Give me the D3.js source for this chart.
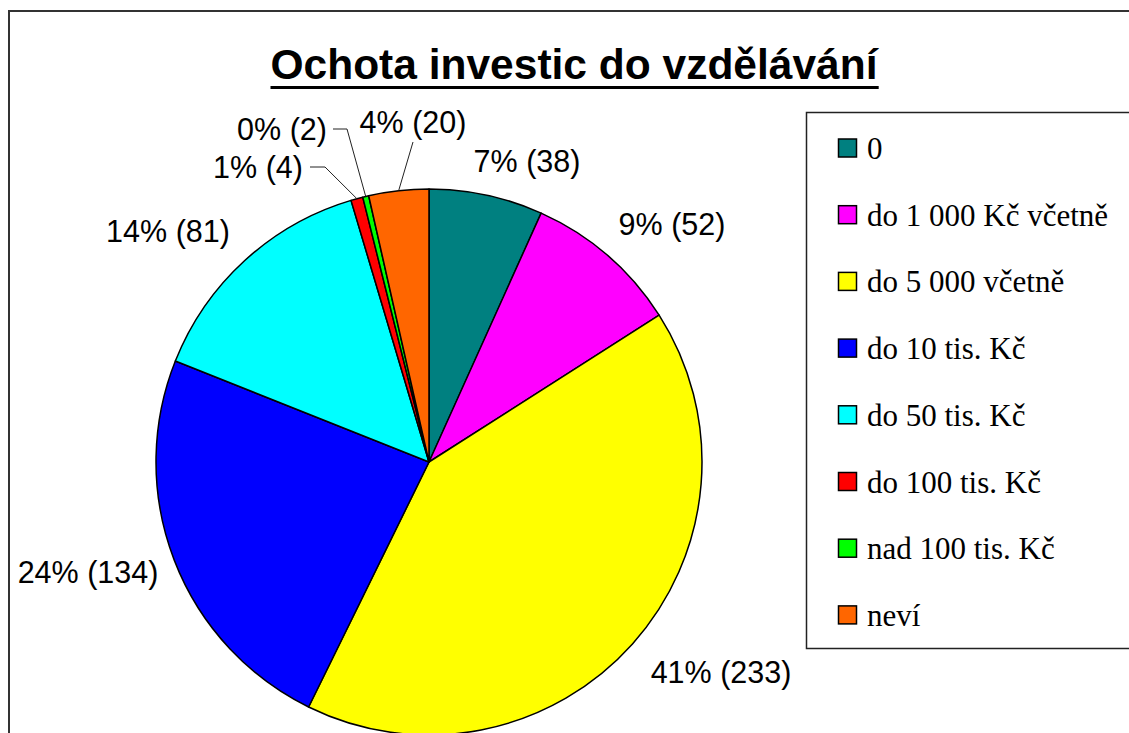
<!DOCTYPE html>
<html>
<head>
<meta charset="utf-8">
<script src="https://cdn.jsdelivr.net/npm/d3@7"></script>
<style>
  html, body { margin: 0; padding: 0; background: #fff; overflow: hidden; }
  svg { display: block; }
</style>
</head>
<body>
<svg id="chart" width="1129" height="733"></svg>
<script>
// ---- data ----
const categories = ["0", "do 1 000 Kč včetně", "do 5 000 včetně", "do 10 tis. Kč",
                    "do 50 tis. Kč", "do 100 tis. Kč", "nad 100 tis. Kč", "neví"];
const counts = [38, 52, 233, 134, 81, 4, 2, 20];
const percentLabels = ["7%", "9%", "41%", "24%", "14%", "1%", "0%", "4%"];
const colors = ["#008080", "#FF00FF", "#FFFF00", "#0000FF", "#00FFFF", "#FF0000", "#00FF00", "#FF6600"];
const title = "Ochota investic do vzdělávání";

// ---- layout (label anchors: text centre x, baseline y) ----
const labelPos = [[527, 172], [672, 235], [721, 683], [88, 583], [168, 242], [258, 178], [282, 140], [413, 133]];
// elbow points for leader lines (null = no leader)
const leaderElbow = [null, null, null, null, null, [[325, 167], [310, 167]], [[347, 129], [333, 129]], [[413, 142]]];

const svg = d3.select("#chart");
const cx = 429, cy = 462, R = 273;

// outer frame (only top and left edges are visible)
svg.append("path").attr("d", "M9,740 L9,11 L1140,11").attr("fill", "none")
  .attr("stroke", "#333").attr("stroke-width", 2);

// title
const t = svg.append("text").attr("x", 574).attr("y", 79).attr("text-anchor", "middle")
  .attr("font-family", "Arial, 'Liberation Sans', sans-serif").attr("font-weight", "bold")
  .attr("font-size", 42.5).attr("fill", "#000").text(title);
const tb = t.node().getBBox();
svg.append("rect").attr("x", tb.x).attr("y", 86).attr("width", tb.width).attr("height", 3).attr("fill", "#000");

// pie
const pie = d3.pie().sort(null).value(d => d)(counts);
const arc = d3.arc().innerRadius(0).outerRadius(R);
const g = svg.append("g").attr("transform", `translate(${cx},${cy})`);
g.selectAll("path").data(pie).join("path")
  .attr("d", arc)
  .attr("fill", (d, i) => colors[i])
  .attr("stroke", "#000").attr("stroke-width", 1.5).attr("stroke-linejoin", "round");

// leader lines
pie.forEach((d, i) => {
  if (!leaderElbow[i]) return;
  const mid = (d.startAngle + d.endAngle) / 2;
  const p0 = [cx + R * Math.sin(mid), cy - R * Math.cos(mid)];
  const pts = [p0].concat(leaderElbow[i]);
  svg.append("path").attr("d", d3.line()(pts)).attr("fill", "none")
    .attr("stroke", "#222").attr("stroke-width", 1);
});

// labels
svg.selectAll("text.lbl").data(pie).join("text").attr("class", "lbl")
  .attr("x", (d, i) => labelPos[i][0]).attr("y", (d, i) => labelPos[i][1])
  .attr("text-anchor", "middle")
  .attr("font-family", "Arial, 'Liberation Sans', sans-serif").attr("font-size", 30.5)
  .attr("fill", "#000")
  .text((d, i) => `${percentLabels[i]} (${counts[i]})`);

// legend (right edge runs past the page)
const lx = 806.5, ly = 112.5;
svg.append("path").attr("d", `M1140,${ly} L${lx},${ly} L${lx},648.5 L1140,648.5`)
  .attr("fill", "#fff").attr("stroke", "#222").attr("stroke-width", 1.5);
const step = 66.7, first = 148;
const items = svg.selectAll("g.leg").data(categories).join("g").attr("class", "leg")
  .attr("transform", (d, i) => `translate(0,${first + i * step})`);
items.append("rect").attr("x", 838.5).attr("y", -9).attr("width", 18).attr("height", 18)
  .attr("fill", (d, i) => colors[i]).attr("stroke", "#000").attr("stroke-width", 1.5);
items.append("text").attr("x", 867).attr("y", 11)
  .attr("font-family", "'Times New Roman', 'Liberation Serif', serif").attr("font-size", 31)
  .attr("fill", "#000").text(d => d);
</script>
</body>
</html>
